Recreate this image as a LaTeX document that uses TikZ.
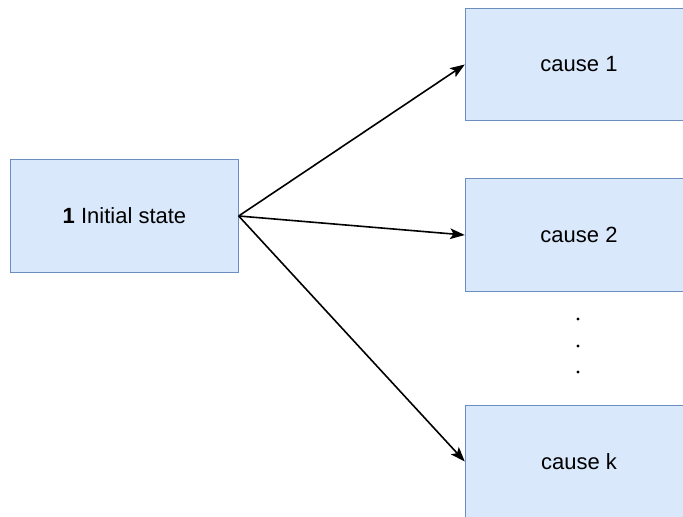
\documentclass[tikz,border=0pt]{standalone}
\usepackage{fontspec}
\setmainfont{Liberation Sans}
\usetikzlibrary{arrows.meta}
\definecolor{boxfill}{HTML}{DAE8FC}
\definecolor{boxline}{HTML}{6C8EBF}

\begin{document}
\begin{tikzpicture}[x=0.75pt, y=-0.75pt,
        box/.style={draw=boxline, fill=boxfill, line width=0.8pt, inner sep=0pt,
            minimum width=170.5pt, minimum height=84.5pt, font=\fontsize{16.5}{20}\selectfont},
        link/.style={line width=1.2pt, -{Stealth[length=11pt, width=8pt, inset=2.5pt]}}]
        \useasboundingbox (0,0) rectangle (683,517);
        \node[box] (init) at (124.5, 216) {\textbf{1} Initial state};
        \node[box] (cause1) at (579, 64.5) {cause 1};
        \node[box] (cause2) at (579, 235) {cause 2};
        \node[box] (causek) at (579, 461.5) {cause k};
        \draw[link] (init.east) -- (cause1.west);
        \draw[link] (init.east) -- (cause2.west);
        \draw[link] (init.east) -- (causek.west);
        \foreach \y in {319, 346, 372}
            \fill (578, \y) circle (1.6);
\end{tikzpicture}
\end{document}
